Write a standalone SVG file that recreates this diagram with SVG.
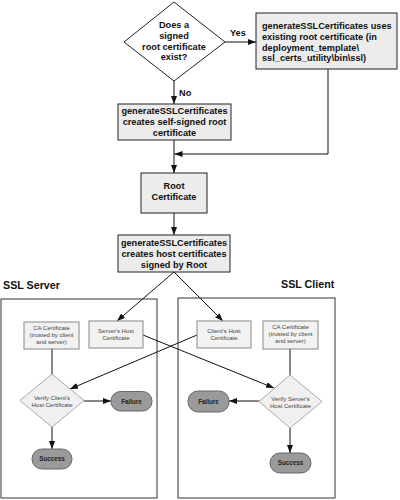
<svg xmlns="http://www.w3.org/2000/svg" width="400" height="500" viewBox="0 0 400 500">
<defs>
<marker id="ah" markerWidth="8" markerHeight="6" refX="8" refY="3" orient="auto" markerUnits="userSpaceOnUse">
<path d="M0,0 L8,3 L0,6 z" fill="#111"/>
</marker>
<style>
.b{font-family:"Liberation Sans",Arial,sans-serif;font-weight:bold;font-size:9.2px;fill:#111;text-anchor:middle}
.bl{font-family:"Liberation Sans",Arial,sans-serif;font-weight:bold;font-size:9.2px;fill:#111}
.s{font-family:"Liberation Sans",Arial,sans-serif;font-size:6px;fill:#444;text-anchor:middle}
.t{font-family:"Liberation Sans",Arial,sans-serif;font-weight:bold;font-size:6.3px;fill:#222;text-anchor:middle}
.h{font-family:"Liberation Sans",Arial,sans-serif;font-weight:bold;font-size:10.7px;fill:#111}
.box{fill:#ececec;stroke:#222;stroke-width:1}
.cert{fill:#f2f2f2;stroke:#888;stroke-width:1}
.dl{fill:#f0f0f0;stroke:#aaa;stroke-width:1}
.term{fill:#9a9a9a;stroke:#666;stroke-width:1}
.cont{fill:#fff;stroke:#333;stroke-width:1}
.c{fill:none;stroke:#111;stroke-width:1}
.a{fill:none;stroke:#111;stroke-width:1;marker-end:url(#ah)}
</style>
</defs>
<rect width="400" height="500" fill="#fff"/>

<g id="containers">
<rect class="cont" x="1" y="299" width="156" height="199"/>
<rect class="cont" x="178" y="298" width="157" height="200"/>
<text class="h" x="3" y="289">SSL Server</text>
<text class="h" x="281" y="288">SSL Client</text>
</g>

<g id="connectors">
<line class="a" x1="225" y1="42" x2="256" y2="42"/>
<text class="bl" x="230" y="36">Yes</text>
<line class="a" x1="174" y1="81" x2="174" y2="104"/>
<text class="bl" x="179" y="96">No</text>
<line class="a" x1="174" y1="140" x2="174" y2="173"/>
<polyline class="a" points="328,69 328,154 174.5,154"/>
<line class="a" x1="174" y1="213" x2="174" y2="235"/>
<line class="a" x1="174" y1="272" x2="117" y2="321"/>
<line class="a" x1="174" y1="272" x2="223" y2="321"/>
<line class="c" x1="52" y1="349" x2="52" y2="374"/>
<line class="a" x1="84" y1="401" x2="111" y2="401"/>
<line class="a" x1="52" y1="427" x2="52" y2="449"/>
<line class="c" x1="290" y1="349" x2="290" y2="375"/>
<line class="a" x1="259" y1="401" x2="229" y2="401"/>
<line class="a" x1="290" y1="428" x2="290" y2="453"/>
<line class="a" x1="197" y1="335" x2="70" y2="389"/>
<line class="a" x1="143" y1="335" x2="274" y2="388"/>
</g>

<g id="decision-root">
<polygon points="174,2 225,42 174,81 124,42" fill="#fff" stroke="#222" stroke-width="1"/>
<text class="b" x="174" y="28">Does a</text>
<text class="b" x="174" y="39">signed</text>
<text class="b" x="174" y="50">root certificate</text>
<text class="b" x="174" y="60">exist?</text>
</g>

<g id="existing-root">
<rect class="box" x="256" y="13" width="141" height="56"/>
<text class="bl" x="262" y="29">generateSSLCertificates uses</text>
<text class="bl" x="262" y="40">existing root certificate (in</text>
<text class="bl" x="262" y="51">deployment_template\</text>
<text class="bl" x="262" y="61">ssl_certs_utility\bin\ssl)</text>
</g>

<g id="self-signed">
<rect class="box" x="118" y="104" width="113" height="36"/>
<text class="b" x="174.5" y="113.5">generateSSLCertificates</text>
<text class="b" x="174.5" y="124.5">creates self-signed root</text>
<text class="b" x="174.5" y="135.5">certificate</text>
</g>

<g id="root-cert">
<rect class="box" x="141" y="173" width="66" height="40"/>
<text class="b" x="174" y="189">Root</text>
<text class="b" x="174" y="200">Certificate</text>
</g>

<g id="host-certs">
<rect class="box" x="118" y="235" width="112" height="37"/>
<text class="b" x="174" y="245.5">generateSSLCertificates</text>
<text class="b" x="174" y="256.5">creates host certificates</text>
<text class="b" x="174" y="267.5">signed by Root</text>
</g>

<g id="server-ca">
<rect class="cert" x="24" y="322" width="55" height="27"/>
<text class="s" x="51.5" y="330">CA Certificate</text>
<text class="s" x="51.5" y="337">(trusted by client</text>
<text class="s" x="51.5" y="344">and server)</text>
</g>

<g id="server-host">
<rect class="cert" x="89" y="321" width="54" height="27"/>
<text class="s" x="116" y="333">Server's Host</text>
<text class="s" x="116" y="340">Certificate</text>
</g>

<g id="verify-client">
<polygon class="dl" points="52,374 84,400.5 52,427 20,400.5"/>
<text class="s" x="52" y="400">Verify Client's</text>
<text class="s" x="52" y="407">Host Certificate</text>
</g>

<g id="server-failure">
<rect class="term" x="111" y="391.5" width="41" height="19.5" rx="9.5"/>
<text class="t" x="131.5" y="403.5">Failure</text>
</g>

<g id="server-success">
<rect class="term" x="32" y="449" width="40" height="20" rx="10"/>
<text class="t" x="52" y="461">Success</text>
</g>

<g id="client-host">
<rect class="cert" x="197" y="321" width="54" height="27"/>
<text class="s" x="224" y="333">Client's Host</text>
<text class="s" x="224" y="340">Certificate</text>
</g>

<g id="client-ca">
<rect class="cert" x="263" y="321" width="55" height="28"/>
<text class="s" x="290.5" y="329">CA Certificate</text>
<text class="s" x="290.5" y="336">(trusted by client</text>
<text class="s" x="290.5" y="343">and server)</text>
</g>

<g id="verify-server">
<polygon class="dl" points="290,375 322,401.5 290,428 259,401.5"/>
<text class="s" x="290.5" y="401">Verify Server's</text>
<text class="s" x="290.5" y="408">Host Certificate</text>
</g>

<g id="client-failure">
<rect class="term" x="188" y="391" width="41" height="21" rx="10"/>
<text class="t" x="208.5" y="403.5">Failure</text>
</g>

<g id="client-success">
<rect class="term" x="270" y="453" width="41" height="20" rx="10"/>
<text class="t" x="290.5" y="465">Success</text>
</g>
</svg>
